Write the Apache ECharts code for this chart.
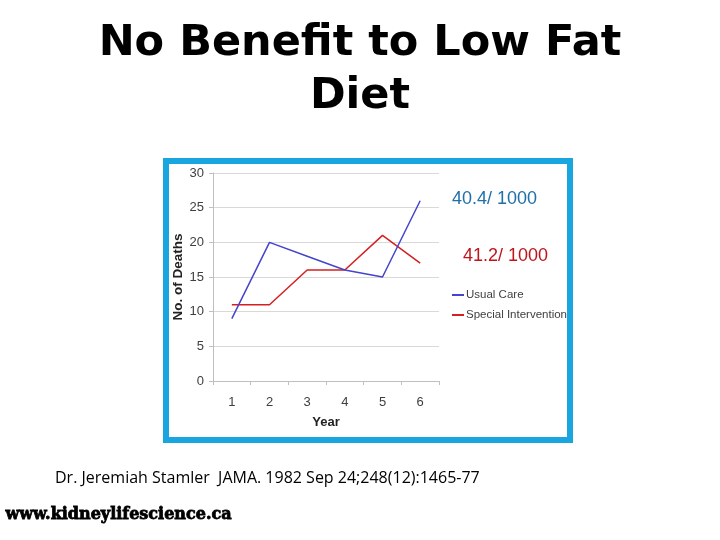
<!DOCTYPE html>
<html>
<head>
<meta charset="utf-8">
<script src="https://cdn.jsdelivr.net/npm/echarts@6/dist/echarts.min.js"></script>
<style>
html,body{margin:0;padding:0;background:#fff;}
#chart{width:720px;height:540px;}
</style>
</head>
<body>
<div id="chart"></div>
<script>
const years = ['1', '2', '3', '4', '5', '6'];
const usualCare = [9, 20, 18, 16, 15, 26];
const specialIntervention = [11, 11, 16, 16, 21, 17];
const yTicks = { min: 0, max: 30, interval: 5 };
const seriesNames = ['Usual Care', 'Special Intervention'];
const rateUsual = '40.4/ 1000';
const rateSpecial = '41.2/ 1000';
const titleLines = ['No Benefit to Low Fat', 'Diet'];
const citation = 'Dr. Jeremiah Stamler  JAMA. 1982 Sep 24;248(12):1465-77';
const website = 'www.kidneylifescience.ca';

const titleFont = 'bold 43px "DejaVu Sans", sans-serif';
const chart = echarts.init(document.getElementById('chart'), null, {renderer: 'canvas'});
chart.setOption({
  backgroundColor: '#ffffff',
  animation: false,
  graphic: [
    {
      type: 'text', x: 360, y: 65, z: 10,
      style: {text: titleLines[0], fill: '#000', font: titleFont, textAlign: 'center', textVerticalAlign: 'bottom'}
    },
    {
      type: 'text', x: 360, y: 118, z: 10,
      style: {text: titleLines[1], fill: '#000', font: titleFont, textAlign: 'center', textVerticalAlign: 'bottom'}
    },
    {
      type: 'rect', z: 0, silent: true,
      shape: {x: 166, y: 161, width: 404, height: 279},
      style: {fill: '#ffffff', stroke: '#19a6e0', lineWidth: 6}
    },
    {
      type: 'text', left: 452, top: 190, z: 10,
      style: {text: rateUsual, fill: '#2070a8', font: '18px "Liberation Sans", Arial, sans-serif'}
    },
    {
      type: 'text', left: 463, top: 247, z: 10,
      style: {text: rateSpecial, fill: '#c0141c', font: '18px "Liberation Sans", Arial, sans-serif'}
    },
    {
      type: 'text', left: 55, top: 470, z: 10,
      style: {text: citation, fill: '#000000', font: '16px "Open Sans", sans-serif'}
    },
    {
      type: 'text', left: 5, top: 506, z: 10,
      style: {text: website, fill: '#000000', stroke: '#000000', lineWidth: 0.8, font: 'bold 16px "DejaVu Serif", serif'}
    }
  ],
  legend: {
    orient: 'vertical',
    left: 447,
    top: 284,
    itemGap: 8,
    itemWidth: 12,
    itemHeight: 2,
    icon: 'rect',
    data: seriesNames,
    textStyle: {fontFamily: 'Liberation Sans', fontSize: 11.5, color: '#404040', padding: [0,0,0,-3]}
  },
  grid: {left: 213, right: 281, top: 173, bottom: 159, containLabel: false},
  xAxis: {
    type: 'category',
    data: years,
    boundaryGap: true,
    name: 'Year',
    nameLocation: 'middle',
    nameGap: 35,
    nameTextStyle: {fontFamily: 'Liberation Sans', fontWeight: 'bold', fontSize: 13, color: '#222'},
    axisLine: {lineStyle: {color: '#bfbfbf', width: 1}},
    axisTick: {show: true, length: 4, lineStyle: {color: '#bfbfbf'}},
    axisLabel: {fontFamily: 'Liberation Sans', fontSize: 13, color: '#404040', margin: 15}
  },
  yAxis: {
    type: 'value',
    min: yTicks.min,
    max: yTicks.max,
    interval: yTicks.interval,
    name: 'No. of Deaths',
    nameLocation: 'middle',
    nameGap: 26,
    nameRotate: 90,
    nameTextStyle: {fontFamily: 'Liberation Sans', fontWeight: 'bold', fontSize: 13.5, color: '#222'},
    axisLine: {show: true, lineStyle: {color: '#bfbfbf', width: 1}},
    axisTick: {show: true, length: 4, lineStyle: {color: '#bfbfbf'}},
    axisLabel: {fontFamily: 'Liberation Sans', fontSize: 13, color: '#404040', margin: 9},
    splitLine: {lineStyle: {color: '#d9d9d9', width: 1}}
  },
  series: [
    {
      name: seriesNames[0], type: 'line', data: usualCare,
      symbol: 'none', z: 3,
      lineStyle: {color: '#4444cc', width: 1.5}, itemStyle: {color: '#4444cc'}
    },
    {
      name: seriesNames[1], type: 'line', data: specialIntervention,
      symbol: 'none', z: 2,
      lineStyle: {color: '#d42020', width: 1.5}, itemStyle: {color: '#d42020'}
    }
  ]
});
</script>
</body>
</html>
